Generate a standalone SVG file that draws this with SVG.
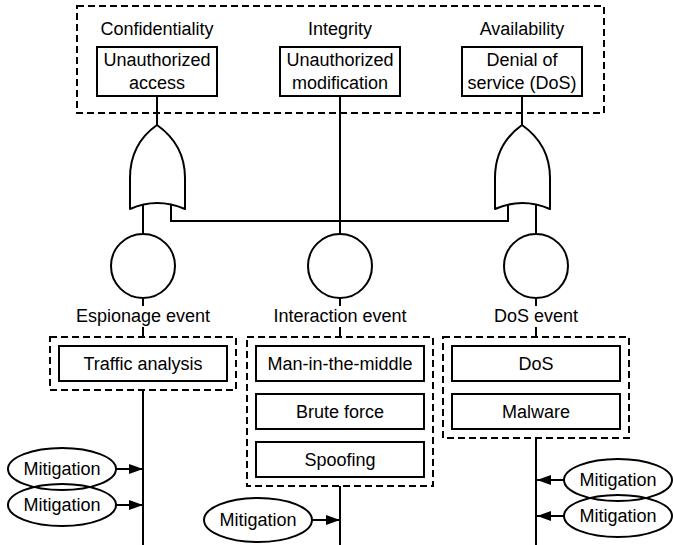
<svg xmlns="http://www.w3.org/2000/svg" width="673" height="545" viewBox="0 0 673 545">
<defs>
<marker id="arr" viewBox="0 0 14 10" refX="14" refY="5" markerWidth="14" markerHeight="10" markerUnits="userSpaceOnUse" orient="auto">
<path d="M0,0 L14,5 L0,10 Z" fill="#000"/>
</marker>
<path id="orgate" d="M0,0 C-17,12 -27,28 -27,53 L-27,84 Q0,72 28,84 L28,53 C28,28 17,12 0,0 Z"/>
</defs>
<style>
text{font-family:"Liberation Sans",Arial,sans-serif;font-size:18px;fill:#000;text-anchor:middle}
.box{fill:#fff;stroke:#000;stroke-width:2}
.dash{fill:none;stroke:#000;stroke-width:2;stroke-dasharray:7,4}
.ln{fill:none;stroke:#000;stroke-width:2}
.gate{fill:#fff;stroke:#000;stroke-width:2;stroke-linejoin:round}
.ell{fill:none;stroke:#000;stroke-width:2}
</style>
<rect width="673" height="545" fill="#fff"/>

<g id="connectors">
<line class="ln" x1="157" y1="96" x2="157" y2="126"/>
<line class="ln" x1="522" y1="96" x2="522" y2="126"/>
<line class="ln" x1="340" y1="96" x2="340" y2="234"/>
<line class="ln" x1="143" y1="204" x2="143" y2="234"/>
<polyline class="ln" points="171,204 171,221 508,221 508,204"/>
<line class="ln" x1="536" y1="204" x2="536" y2="234"/>
<line class="ln" x1="143" y1="298" x2="143" y2="306"/>
<line class="ln" x1="143" y1="327" x2="143" y2="336"/>
<line class="ln" x1="340" y1="298" x2="340" y2="306"/>
<line class="ln" x1="340" y1="327" x2="340" y2="336"/>
<line class="ln" x1="536" y1="298" x2="536" y2="306"/>
<line class="ln" x1="536" y1="327" x2="536" y2="336"/>
<line class="ln" x1="143" y1="390" x2="143" y2="545"/>
<line class="ln" x1="340" y1="486" x2="340" y2="545"/>
<line class="ln" x1="536" y1="438" x2="536" y2="545"/>
<line class="ln" x1="116" y1="469" x2="143" y2="469" marker-end="url(#arr)"/>
<line class="ln" x1="116" y1="505" x2="143" y2="505" marker-end="url(#arr)"/>
<line class="ln" x1="312" y1="520" x2="340" y2="520" marker-end="url(#arr)"/>
<line class="ln" x1="564" y1="480" x2="537" y2="480" marker-end="url(#arr)"/>
<line class="ln" x1="564" y1="516" x2="537" y2="516" marker-end="url(#arr)"/>
</g>

<g id="cia-group">
<rect class="dash" x="77" y="6" width="527" height="107"/>
<text x="157" y="35">Confidentiality</text>
<text x="340" y="35">Integrity</text>
<text x="522" y="35">Availability</text>
</g>
<g id="unauthorized-access">
<rect class="box" x="97" y="47" width="120" height="49"/>
<text x="157" y="66">Unauthorized</text>
<text x="157" y="89">access</text>
</g>
<g id="unauthorized-modification">
<rect class="box" x="280" y="47" width="120" height="49"/>
<text x="340" y="66">Unauthorized</text>
<text x="340" y="89">modification</text>
</g>
<g id="denial-of-service">
<rect class="box" x="462" y="47" width="120" height="49"/>
<text x="522" y="66">Denial of</text>
<text x="522" y="89">service (DoS)</text>
</g>

<g id="or-gate-left"><use href="#orgate" class="gate" x="157" y="125"/></g>
<g id="or-gate-right"><use href="#orgate" class="gate" x="522" y="125"/></g>

<g id="espionage-event">
<circle class="box" cx="143" cy="266" r="32"/>
<text x="143" y="322">Espionage event</text>
</g>
<g id="interaction-event">
<circle class="box" cx="340" cy="266" r="32"/>
<text x="340" y="322">Interaction event</text>
</g>
<g id="dos-event">
<circle class="box" cx="536" cy="266" r="32"/>
<text x="536" y="322">DoS event</text>
</g>

<g id="espionage-attacks">
<rect class="dash" x="50" y="337" width="186" height="53"/>
<rect class="box" x="59" y="346" width="168" height="35"/>
<text x="143" y="370">Traffic analysis</text>
</g>
<g id="interaction-attacks">
<rect class="dash" x="247" y="337" width="186" height="149"/>
<rect class="box" x="256" y="346" width="168" height="35"/>
<text x="340" y="370">Man-in-the-middle</text>
<rect class="box" x="256" y="394" width="168" height="35"/>
<text x="340" y="418">Brute force</text>
<rect class="box" x="256" y="442" width="168" height="35"/>
<text x="340" y="466">Spoofing</text>
</g>
<g id="dos-attacks">
<rect class="dash" x="443" y="337" width="186" height="101"/>
<rect class="box" x="452" y="346" width="168" height="35"/>
<text x="536" y="370">DoS</text>
<rect class="box" x="452" y="394" width="168" height="35"/>
<text x="536" y="418">Malware</text>
</g>

<g id="mitigation-1">
<ellipse class="ell" cx="62" cy="469" rx="54" ry="21"/>
<text x="62" y="475">Mitigation</text>
</g>
<g id="mitigation-2">
<ellipse class="ell" cx="62" cy="505" rx="54" ry="21"/>
<text x="62" y="511">Mitigation</text>
</g>
<g id="mitigation-3">
<ellipse class="ell" cx="258" cy="520" rx="54" ry="22"/>
<text x="258" y="526">Mitigation</text>
</g>
<g id="mitigation-4">
<ellipse class="ell" cx="618" cy="480" rx="54" ry="21"/>
<text x="618" y="486">Mitigation</text>
</g>
<g id="mitigation-5">
<ellipse class="ell" cx="618" cy="516" rx="54" ry="21"/>
<text x="618" y="522">Mitigation</text>
</g>
</svg>
